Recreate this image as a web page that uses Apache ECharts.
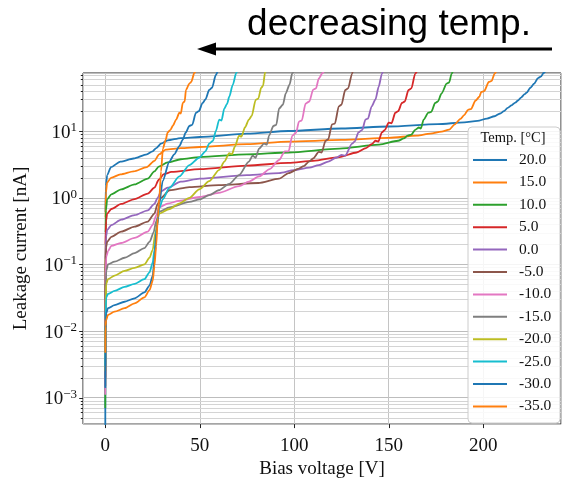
<!DOCTYPE html>
<html>
<head>
<meta charset="utf-8">
<script src="https://cdn.jsdelivr.net/npm/echarts@6/dist/echarts.min.js"></script>
<style>
  html, body { margin: 0; padding: 0; background: #fff; }
  #chart { width: 564px; height: 484px; }
</style>
</head>
<body>
<div id="chart"></div>
<script>
// Legend labels (temperature in °C) and line colours, one per curve
const temperatures = ['20.0', '15.0', '10.0', '5.0', '0.0', '-5.0', '-10.0', '-15.0', '-20.0', '-25.0', '-30.0', '-35.0'];
const colors = ['#1f77b4', '#ff7f0e', '#2ca02c', '#d62728', '#9467bd', '#8c564b',
                '#e377c2', '#7f7f7f', '#bcbd22', '#17becf', '#1f77b4', '#ff7f0e'];

// I-V curves: [bias voltage in V, leakage current in nA]
const t20 = [[0,0.0002],[0.1,0.6],[0.3,1.5],[1,2.2],[3,2.9],[8,3.5],[15,3.9],[22,4.5],[25,5.0],[27,5.6],[29.5,6.5],[33,7.3],[40,7.9],[50,8.2],[75,9.2],[97,10.1],[125,11.0],[150,11.8],[176,12.8],[190,13.6],[197,14.3],[202,15.5],[206,16.8],[209,18.5],[211,20],[213,22.5],[215,24.5],[217,27],[218.5,29],[220,32],[222,36],[223,38],[225,45],[227,52],[229,63],[230.5,66],[232,75],[233,80]];
const t15 = [[0,0.003],[0.1,0.5],[0.3,1.2],[1,1.7],[3,2.0],[8,2.25],[15,2.5],[22,2.9],[26,3.6],[28.5,4.5],[32,5.3],[40,5.6],[50,5.8],[75,6.4],[97,7.0],[125,7.4],[150,7.95],[165,8.6],[172,9.2],[178,9.9],[182,10.6],[185,12.7],[188,15.4],[190,17.5],[192,21],[193.5,21.5],[196,29],[198,33],[199,39],[200.5,40],[203,55],[204.5,57],[206,73],[207,80]];
const t10 = [[0,0.0007],[0.1,0.3],[0.3,0.65],[1,0.95],[3.2,1.13],[8.4,1.34],[15.5,1.59],[22.5,1.95],[26,2.5],[28.3,2.95],[33,3.4],[40,3.8],[50,4.1],[75,4.5],[97,4.8],[124,5.5],[145,6.3],[155,7.2],[158,7.8],[160,8.6],[162,8.9],[164,10.5],[166,11.4],[167,11],[168.5,15],[171,19],[172.5,19.5],[174.6,26.6],[176,28],[178,37],[180.7,52],[182,54],[183.3,73],[184,80]];
const t5 = [[0,0.002],[0.1,0.2],[0.4,0.45],[1,0.58],[3.2,0.68],[8.4,0.81],[15.5,0.96],[22.5,1.16],[26,1.42],[28.3,1.87],[31,2.27],[35,2.45],[50,2.7],[75,3.05],[97,3.35],[110,3.6],[124,4.1],[133,4.8],[138,5.6],[141,6.4],[143,7.2],[144.5,7.0],[146.4,9.6],[148,10.5],[150,13.5],[151.5,13.2],[153.5,19],[155,20],[157,26.6],[158.5,28],[160.5,41.7],[162,44],[164,73],[165,80]];
const t0 = [[0,0.0025],[0.1,0.12],[0.4,0.26],[1,0.33],[3.2,0.39],[8.4,0.47],[15.5,0.55],[22.5,0.65],[26,0.81],[27.7,1.0],[29.5,1.26],[33,1.42],[40,1.75],[50,1.95],[75,2.2],[92,2.35],[100,2.6],[108,2.85],[113,3.1],[118,3.5],[122,4.0],[125,4.4],[127,4.3],[130.6,6.5],[132,7.0],[134,9.6],[136,10.5],[137.7,15],[139,15.5],[141,23.7],[143,30],[144.7,46.6],[146.4,73],[147,80]];
const tm5 = [[0,0.0015],[0.1,0.08],[0.4,0.18],[1,0.22],[3.2,0.26],[8.4,0.31],[15.5,0.37],[22.5,0.44],[26,0.58],[27.7,0.81],[29.5,1.0],[34,1.3],[44.5,1.45],[60,1.55],[81,1.67],[92,1.94],[97,2.35],[102.5,2.75],[105,3.0],[107.8,3.5],[110,3.9],[113,4.9],[114.5,4.8],[116.6,7.2],[118,7.6],[120,12.7],[121.5,13],[123.6,23.7],[125,25],[127,41.7],[128.5,44],[130.6,73],[131,80]];
const tm10 = [[0,0.0011],[0.1,0.05],[0.5,0.13],[1.5,0.16],[3.2,0.19],[8.4,0.21],[15.5,0.25],[22.5,0.31],[25,0.39],[27,0.55],[28.5,0.72],[33,0.82],[39,0.9],[50,1.03],[60,1.19],[70.8,1.5],[76,1.75],[81.4,2.1],[87,2.7],[92,3.7],[95,5.0],[97,5.0],[99,8.6],[101,9.5],[102.5,14],[104,14.5],[106,26],[108,28],[110,42],[111.5,44],[113,62],[115,75],[116,82]];
const tm15 = [[0,0.002],[0.1,0.03],[0.5,0.08],[1.4,0.1],[4.9,0.11],[10.2,0.126],[15.5,0.148],[20.7,0.176],[23.5,0.22],[25.5,0.3],[27,0.45],[28.6,0.62],[34,0.72],[44.5,0.87],[50,0.95],[55,1.1],[60,1.3],[65.6,1.62],[70.8,2.2],[76,3.5],[78,4.3],[79.5,4.0],[81.4,5.5],[84,6.5],[85.5,6.3],[86.7,8.6],[89,12],[90.5,12.5],[92,22],[94,25],[95.5,37],[97.5,50],[99,75],[100,82]];
const tm20 = [[0,0.0025],[0.1,0.02],[0.5,0.051],[1.4,0.06],[4.9,0.068],[10.2,0.08],[15.5,0.089],[20.7,0.1],[23.4,0.126],[25.1,0.166],[26.5,0.3],[28.5,0.58],[34,0.68],[39,0.82],[44.5,1.0],[49.7,1.34],[55,1.78],[60.3,2.63],[63,3.5],[65.6,4.7],[67,4.5],[68.5,5.8],[70.8,8.6],[72,8.3],[74,11.5],[76,15],[77.5,17],[79.6,29.7],[81,31],[82.5,45],[83.5,48],[84.5,75],[85,82]];
const tm25 = [[0,0.003],[0.1,0.015],[0.5,0.032],[1.4,0.036],[4.9,0.04],[10.2,0.046],[15.5,0.051],[20.7,0.06],[23.4,0.076],[25.1,0.107],[26,0.166],[27.5,0.4],[28.6,0.7],[30.4,0.95],[33.9,1.41],[39.2,2.1],[44.5,3.1],[49.7,4.0],[53,5.0],[55,6.5],[57,7.2],[58.5,10],[60.3,15],[61.5,14.5],[63,22],[64.5,26],[65.6,33],[67.5,50],[69.3,75],[70,82]];
const tm30 = [[0,0.0014],[0.1,0.01],[0.5,0.0185],[1.4,0.022],[4.9,0.0245],[10.2,0.0275],[15.5,0.031],[20.7,0.038],[23.4,0.048],[25.1,0.068],[26,0.118],[27.3,0.35],[28.5,0.8],[30.4,1.8],[33.9,3.5],[36.5,4.5],[39.2,6.0],[41,7.5],[42.5,9.5],[44.5,12],[46,12.5],[48,19],[49.5,20],[51.5,26.6],[53,30],[55,41.7],[56.5,45],[58.5,70],[59.5,80]];
const tm35 = [[0,0.0047],[0.1,0.0117],[0.5,0.0147],[1.4,0.0174],[4.9,0.0195],[10.2,0.022],[15.5,0.026],[20.7,0.032],[23.4,0.041],[25.1,0.057],[26,0.095],[26.9,0.186],[27.8,0.5],[28.6,1.0],[29.5,2.5],[30.5,5.5],[32,7.5],[33,9.6],[34.5,10.5],[35.7,12],[37.5,15],[39.2,19],[40,18.5],[41,26.6],[42,28],[42.7,41.7],[44.5,52],[45.5,55],[47.1,75],[48,82]];

const curves = [t20, t15, t10, t5, t0, tm5, tm10, tm15, tm20, tm25, tm30, tm35];

// Axis ranges and labelled ticks
const xRange = [-11.8, 241.2];
const yRange = [4e-4, 75];
const xTicks = [0, 50, 100, 150, 200];
const yDecades = [-3, -2, -1, 0, 1];

const serif = '"Liberation Serif", "Times New Roman", serif';
const ink = '#111';

// Minor positions of the log axis (2..9 in every decade that is shown)
const minorValues = [];
for (let e = -4; e <= 1; e++) {
  for (let m = 2; m <= 9; m++) {
    const v = m * Math.pow(10, e);
    if (v > yRange[0] && v < yRange[1]) minorValues.push(v);
  }
}

// [x, y, kind]: 0 = minor y grid line + minor tick, 1 = major y tick, 2 = x tick
const tickData = [];
minorValues.forEach(v => tickData.push([xRange[0], v, 0]));
yDecades.forEach(d => tickData.push([xRange[0], Math.pow(10, d), 1]));
xTicks.forEach(x => tickData.push([x, yRange[0], 2]));

function renderTicks(params, api) {
  const kind = api.value(2);
  const tickStyle = { stroke: '#222', lineWidth: 1 };
  if (kind === 2) {
    const p = api.coord([api.value(0), yRange[0]]);
    const x = Math.round(p[0]) + 0.5;
    return { type: 'line', shape: { x1: x, y1: p[1], x2: x, y2: p[1] + 4 }, style: tickStyle };
  }
  const v = api.value(1);
  const a = api.coord([xRange[0], v]);
  const b = api.coord([xRange[1], v]);
  const y = Math.round(a[1]) + 0.5;
  const children = [];
  if (kind === 0) {
    children.push({ type: 'line', z2: 0, shape: { x1: a[0], y1: y, x2: b[0], y2: y },
                    style: { stroke: '#d4d4d4', lineWidth: 1 } });
  }
  const len = kind === 0 ? 2.2 : 3.8;
  children.push({ type: 'line', shape: { x1: a[0] - len, y1: y, x2: a[0], y2: y }, style: tickStyle });
  return { type: 'group', children };
}

function yLabel(v) {
  const lg = Math.log10(v);
  const e = Math.round(lg);
  if (Math.abs(lg - e) > 1e-6) return '';
  return '{b|10}{s|' + (e < 0 ? '\u2212' : '') + Math.abs(e) + '}';
}

const lineSeries = curves.map((data, i) => ({
  name: temperatures[i],
  type: 'line',
  data: data,
  symbol: 'none',
  showSymbol: false,
  smooth: 0.25,
  smoothMonotone: 'x',
  color: colors[i],
  lineStyle: { color: colors[i], width: 1.8 },
  emphasis: { disabled: true },
  animation: false,
  z: 3
}));

const chart = echarts.init(document.getElementById('chart'), null, { renderer: 'canvas' });

chart.setOption({
  animation: false,
  backgroundColor: '#fff',
  grid: {
    left: 83, top: 73, width: 480, height: 359,
    show: true, borderColor: '#222', borderWidth: 1, backgroundColor: 'transparent'
  },
  xAxis: {
    type: 'value',
    min: xRange[0], max: xRange[1],
    splitNumber: 5,
    name: 'Bias voltage [V]',
    nameLocation: 'middle',
    nameGap: 31,
    nameTextStyle: { fontFamily: serif, fontSize: 19, color: ink },
    axisLine: { show: false },
    axisTick: { show: false },
    axisLabel: {
      margin: 12, fontFamily: serif, fontSize: 19, color: ink,
      formatter: v => (xTicks.indexOf(v) >= 0 ? String(v) : '')
    },
    splitLine: { show: true, lineStyle: { color: '#c4c4c4', width: 1 } }
  },
  yAxis: {
    type: 'log',
    logBase: 10,
    min: yRange[0], max: yRange[1],
    name: 'Leakage current [nA]',
    nameLocation: 'middle',
    nameGap: 52,
    nameRotate: 90,
    nameTextStyle: { fontFamily: serif, fontSize: 19, color: ink },
    axisLine: { show: false },
    axisTick: { show: false },
    axisLabel: {
      margin: 6,
      formatter: yLabel,
      rich: {
        b: { fontFamily: serif, fontSize: 19, lineHeight: 20, color: ink, padding: [3, 0, 0, 0] },
        s: { fontFamily: serif, fontSize: 13, lineHeight: 13, verticalAlign: 'top', color: ink }
      }
    },
    splitLine: { show: true, lineStyle: { color: '#bdbdbd', width: 1 } }
  },
  legend: {
    orient: 'vertical',
    left: 473, top: 152,
    padding: 0,
    itemGap: 6.4,
    itemWidth: 34,
    itemHeight: 2,
    icon: 'rect',
    selectedMode: false,
    data: temperatures,
    textStyle: { fontFamily: serif, fontSize: 15.5, lineHeight: 16, color: ink, padding: [0, 0, 0, 7] },
    z: 20
  },
  graphic: [
    {
      type: 'rect', z: 15, silent: true,
      shape: { x: 468, y: 127, width: 92, height: 296, r: 4 },
      style: { fill: 'rgba(255,255,255,0.85)', stroke: '#cccccc', lineWidth: 1 }
    },
    {
      type: 'text', z: 20, silent: true,
      style: { text: 'Temp. [\u00B0C]', x: 513, y: 138, align: 'center', verticalAlign: 'middle',
               font: '14.5px "Liberation Serif", serif', fill: ink }
    },
    {
      type: 'text', z: 20, silent: true,
      style: { text: 'decreasing temp.', x: 389, y: 25, align: 'center', verticalAlign: 'middle',
               font: '37px "Liberation Sans", Arial, sans-serif', fill: '#000' }
    },
    {
      type: 'line', z: 20, silent: true,
      shape: { x1: 552, y1: 49, x2: 212, y2: 49 },
      style: { stroke: '#000', lineWidth: 3 }
    },
    {
      type: 'polygon', z: 20, silent: true,
      shape: { points: [[197, 49], [216, 42.5], [216, 55.5]] },
      style: { fill: '#000' }
    }
  ],
  series: [
    {
      type: 'custom',
      name: 'axis-minor',
      renderItem: renderTicks,
      data: tickData,
      encode: { x: 0, y: 1 },
      clip: false,
      silent: true,
      z: 1,
      animation: false
    }
  ].concat(lineSeries)
});
</script>
</body>
</html>
